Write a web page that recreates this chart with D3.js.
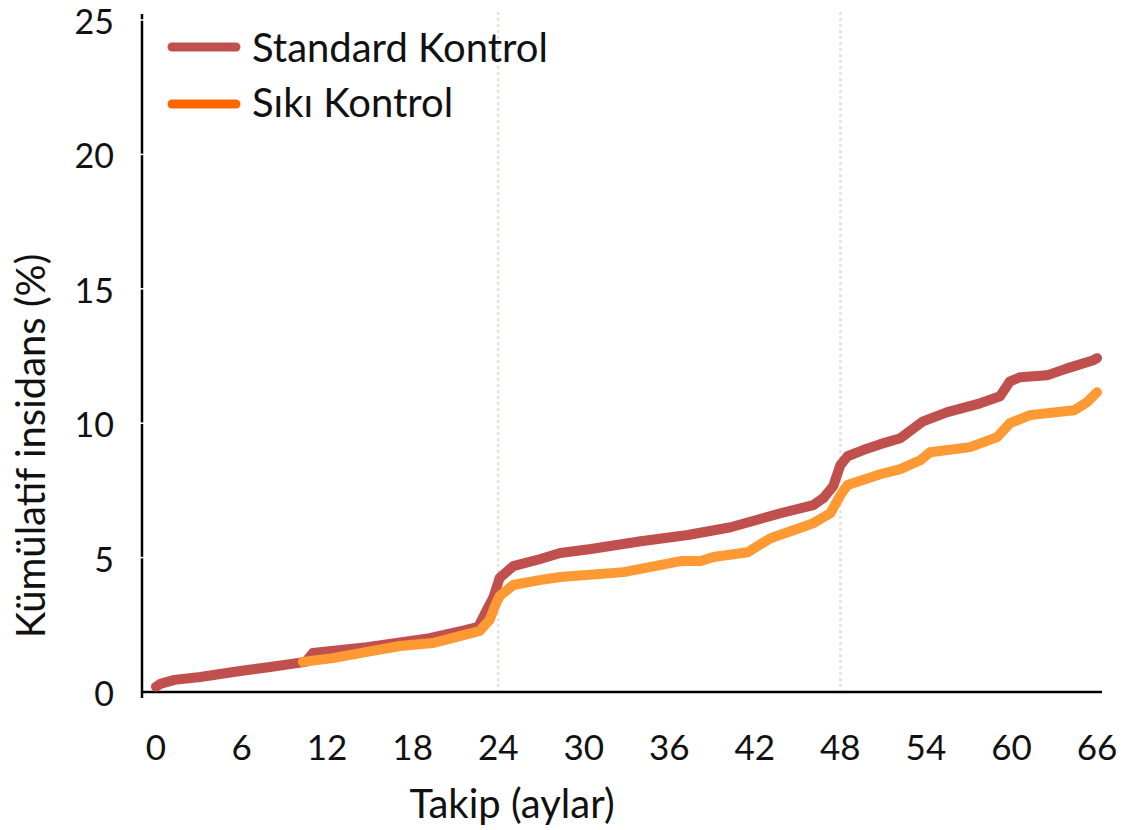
<!DOCTYPE html>
<html>
<head>
<meta charset="utf-8">
<script src="https://cdn.jsdelivr.net/npm/d3@7"></script>
<style>
  html, body { margin: 0; padding: 0; background: #fff; }
  svg { display: block; font-family: Lato, "Noto Sans", sans-serif; }
</style>
</head>
<body>
<svg id="chart" width="1126" height="830"></svg>
<script>
// Follow-up time in months and cumulative incidence (%) for each arm
const standardMonths = [0, 0.3, 1.3, 3.1, 5.9, 8.0, 10.5, 11.0, 14.8, 19.2, 21.7, 22.6, 23.2, 23.65, 24.1, 25.05, 26.9, 28.35, 30.5, 34.0, 37.3, 40.3, 43.8, 46.1, 46.8, 47.5, 48.0, 48.5, 49.6, 50.8, 52.2, 53.8, 55.5, 57.8, 59.2, 59.9, 60.6, 62.5, 63.9, 65.75, 66.0];
const standardValues = [0.2, 0.3, 0.45, 0.56, 0.78, 0.93, 1.12, 1.45, 1.67, 2.0, 2.3, 2.42, 3.05, 3.5, 4.24, 4.68, 4.94, 5.17, 5.32, 5.61, 5.84, 6.13, 6.65, 6.95, 7.21, 7.66, 8.44, 8.77, 9.0, 9.22, 9.44, 10.07, 10.41, 10.74, 11.0, 11.56, 11.71, 11.78, 12.04, 12.34, 12.42];

const tightMonths = [10.3, 12.4, 14.8, 17.1, 19.4, 21.3, 22.7, 23.4, 23.8, 24.1, 25.05, 26.9, 28.35, 32.8, 36.8, 38.2, 39.1, 41.5, 43.1, 46.1, 47.3, 48.0, 48.5, 50.8, 52.2, 53.6, 54.3, 57.1, 59.0, 59.9, 61.3, 64.4, 65.3, 66.0];
const tightValues = [1.12, 1.26, 1.49, 1.71, 1.82, 2.08, 2.27, 2.68, 3.23, 3.57, 3.98, 4.16, 4.28, 4.46, 4.87, 4.87, 5.02, 5.2, 5.72, 6.28, 6.65, 7.32, 7.7, 8.1, 8.29, 8.62, 8.92, 9.11, 9.48, 10.0, 10.3, 10.48, 10.78, 11.15];

const seriesNames = ["Standard Kontrol", "Sıkı Kontrol"];
const xTicks = [0, 6, 12, 18, 24, 30, 36, 42, 48, 54, 60, 66];
const yTicks = [0, 5, 10, 15, 20, 25];
const gridMonths = [24, 48];

const svg = d3.select("#chart");

const x = d3.scaleLinear().domain([0, 66]).range([156, 1097]);
const y = d3.scaleLinear().domain([0, 25]).range([692, 20]);

const lineColors = ["#C0504D", "#FF9933"];
const legendColors = ["#C0504D", "#FF6600"];

// dotted vertical gridlines
svg.append("g").selectAll("line").data(gridMonths).join("line")
  .attr("x1", d => x(d)).attr("x2", d => x(d))
  .attr("y1", 12).attr("y2", 692)
  .attr("stroke", "#e4e4d6").attr("stroke-width", 2.5)
  .attr("stroke-dasharray", "3,3");

// axes
const axisX0 = 142;
svg.append("line").attr("x1", axisX0).attr("x2", 1102).attr("y1", 692).attr("y2", 692)
  .attr("stroke", "#000").attr("stroke-width", 2.5);
svg.append("line").attr("x1", axisX0).attr("x2", axisX0).attr("y1", 14).attr("y2", 698)
  .attr("stroke", "#000").attr("stroke-width", 2.5);

// tick breaks on the y axis
svg.append("g").selectAll("line").data(yTicks.filter(d => d > 0)).join("line")
  .attr("x1", axisX0 - 2).attr("x2", axisX0 + 2)
  .attr("y1", d => y(d)).attr("y2", d => y(d))
  .attr("stroke", "#fff").attr("stroke-width", 1.5);

// y tick labels
svg.append("g").selectAll("text").data(yTicks).join("text")
  .attr("x", 114).attr("y", d => y(d) + 14)
  .attr("text-anchor", "end")
  .attr("font-size", 34).attr("fill", "#111")
  .text(d => d);

// x tick labels
svg.append("g").selectAll("text").data(xTicks).join("text")
  .attr("x", d => x(d)).attr("y", 760)
  .attr("text-anchor", "middle")
  .attr("font-size", 35).attr("fill", "#111")
  .text(d => d);

// axis titles
svg.append("text").attr("x", 512).attr("y", 818)
  .attr("text-anchor", "middle").attr("font-size", 40).attr("fill", "#111")
  .text("Takip (aylar)");
svg.append("text")
  .attr("transform", "translate(45,446) rotate(-90)")
  .attr("text-anchor", "middle").attr("font-size", 40).attr("fill", "#111")
  .text("Kümülatif insidans (%)");

// curves
const line = d3.line().x(d => x(d[0])).y(d => y(d[1]));
const series = [
  d3.zip(standardMonths, standardValues),
  d3.zip(tightMonths, tightValues)
];
svg.append("g").selectAll("path").data(series).join("path")
  .attr("d", line)
  .attr("fill", "none")
  .attr("stroke", (d, i) => lineColors[i])
  .attr("stroke-width", 10)
  .attr("stroke-linecap", "round")
  .attr("stroke-linejoin", "round");

// legend
const legend = svg.append("g").selectAll("g").data(seriesNames).join("g")
  .attr("transform", (d, i) => `translate(0, ${i === 0 ? 47 : 104})`);
legend.append("line")
  .attr("x1", 172).attr("x2", 236).attr("y1", 0).attr("y2", 0)
  .attr("stroke", (d, i) => legendColors[i])
  .attr("stroke-width", 9).attr("stroke-linecap", "round");
legend.append("text")
  .attr("x", 252).attr("y", (d, i) => i === 0 ? 15 : 13)
  .attr("font-size", 40).attr("fill", "#111")
  .text(d => d);
</script>
</body>
</html>
